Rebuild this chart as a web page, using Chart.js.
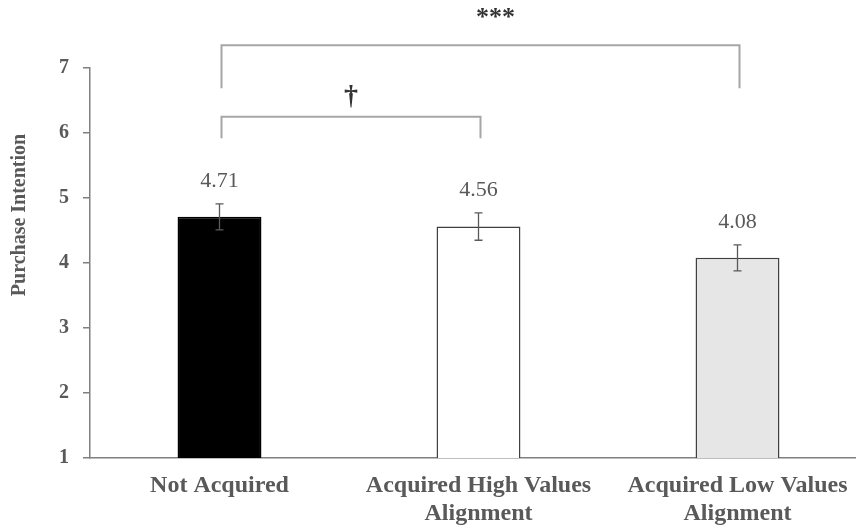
<!DOCTYPE html>
<html>
<head>
<meta charset="utf-8">
<script src="https://cdn.jsdelivr.net/npm/chart.js@4.4.1/dist/chart.umd.min.js"></script>
<style>
  html, body { margin: 0; padding: 0; background: #fff; overflow: hidden; }
  #wrap { position: relative; width: 880px; height: 531px; }
</style>
</head>
<body>
<div id="wrap"><canvas id="chart"></canvas></div>
<script>
// --- DATA ---
const categories = ['Not Acquired', ['Acquired High Values', 'Alignment'], ['Acquired Low Values', 'Alignment']];
const means = [4.71, 4.56, 4.08];
const errors = [0.2, 0.21, 0.2];
const valueLabels = ['4.71', '4.56', '4.08'];
const yTicks = [1, 2, 3, 4, 5, 6, 7];
// significance brackets, in category index / y-axis units
const brackets = [
    { from: 0, to: 2, top: 7.35, drop: 6.69, mark: '***', size: 26, shift: 15, gap: 27 },
    { from: 0, to: 1, top: 6.25, drop: 5.92, mark: '\u2020', size: 28, shift: 0, gap: 20 }
];

const SERIF = "'Liberation Serif', 'Times New Roman', serif";
const TEXT = '#595959';

// error bars + value labels
const errorBars = {
    id: 'errorBars',
    afterDatasetsDraw(chart) {
        const { ctx, scales: { y } } = chart;
        const meta = chart.getDatasetMeta(0);
        ctx.save();
        ctx.strokeStyle = '#5a5a5a';
        ctx.lineWidth = 1.3;
        meta.data.forEach((bar, i) => {
            const top = y.getPixelForValue(means[i] + errors[i]);
            const bot = y.getPixelForValue(means[i] - errors[i]);
            ctx.beginPath();
            ctx.moveTo(bar.x, top); ctx.lineTo(bar.x, bot);
            ctx.moveTo(bar.x - 4, top); ctx.lineTo(bar.x + 4, top);
            ctx.moveTo(bar.x - 4, bot); ctx.lineTo(bar.x + 4, bot);
            ctx.stroke();
            ctx.fillStyle = TEXT;
            ctx.font = `22px ${SERIF}`;
            ctx.textAlign = 'center';
            ctx.textBaseline = 'middle';
            ctx.fillText(valueLabels[i], bar.x, top - 23);
        });
        ctx.restore();
    }
};

// brackets and axis title
const extras = {
    id: 'extras',
    afterDraw(chart) {
        const { ctx, scales: { y } } = chart;
        const meta = chart.getDatasetMeta(0);
        ctx.save();
        brackets.forEach(b => {
            const x1 = meta.data[b.from].x + 2, x2 = meta.data[b.to].x + 2;
            const yt = y.getPixelForValue(b.top), yd = y.getPixelForValue(b.drop);
            ctx.strokeStyle = '#a6a6a6';
            ctx.lineWidth = 2;
            ctx.beginPath();
            ctx.moveTo(x1, yd); ctx.lineTo(x1, yt); ctx.lineTo(x2, yt); ctx.lineTo(x2, yd);
            ctx.stroke();
            ctx.fillStyle = '#333';
            ctx.font = `bold ${b.size}px ${SERIF}`;
            ctx.textAlign = 'center';
            ctx.textBaseline = 'middle';
            ctx.fillText(b.mark, (x1 + x2) / 2 + b.shift, yt - b.gap);
        });
        ctx.translate(20, 215);
        ctx.rotate(-Math.PI / 2);
        ctx.fillStyle = TEXT;
        ctx.font = `bold 20px ${SERIF}`;
        ctx.textAlign = 'center';
        ctx.textBaseline = 'middle';
        ctx.fillText('Purchase Intention', 0, 0);
        ctx.restore();
    }
};

new Chart(document.getElementById('chart'), {
    type: 'bar',
    data: {
        labels: categories,
        datasets: [{
            data: means,
            backgroundColor: ['#000000', '#ffffff', '#e6e6e6'],
            borderColor: ['#000000', '#404040', '#404040'],
            borderWidth: 1.5,
            borderSkipped: false,
            categoryPercentage: 1,
            barPercentage: 0.324
        }]
    },
    options: {
        responsive: true,
        maintainAspectRatio: false,
        animation: false,
        layout: { padding: { top: 68, right: 13, left: 0, bottom: 0 } },
        plugins: { legend: { display: false }, tooltip: { enabled: false } },
        scales: {
            x: {
                grid: { display: false, drawTicks: false },
                border: { color: '#808080', width: 1.5 },
                ticks: {
                    color: TEXT, padding: 14, maxRotation: 0, autoSkip: false,
                    font: { family: SERIF, size: 24, weight: 'bold', lineHeight: 1.15 }
                },
                afterFit: s => { s.height = 73; }
            },
            y: {
                min: 1, max: 7,
                afterBuildTicks: s => { s.ticks = yTicks.map(v => ({ value: v })); },
                grid: { drawOnChartArea: false, tickLength: 7, color: '#808080', lineWidth: 1.5 },
                border: { color: '#808080', width: 1.5 },
                ticks: {
                    color: TEXT, padding: 14,
                    font: { family: SERIF, size: 20, weight: 'bold' }
                },
                afterFit: s => { s.width = 90; }
            }
        }
    },
    plugins: [errorBars, extras]
});
</script>
</body>
</html>
